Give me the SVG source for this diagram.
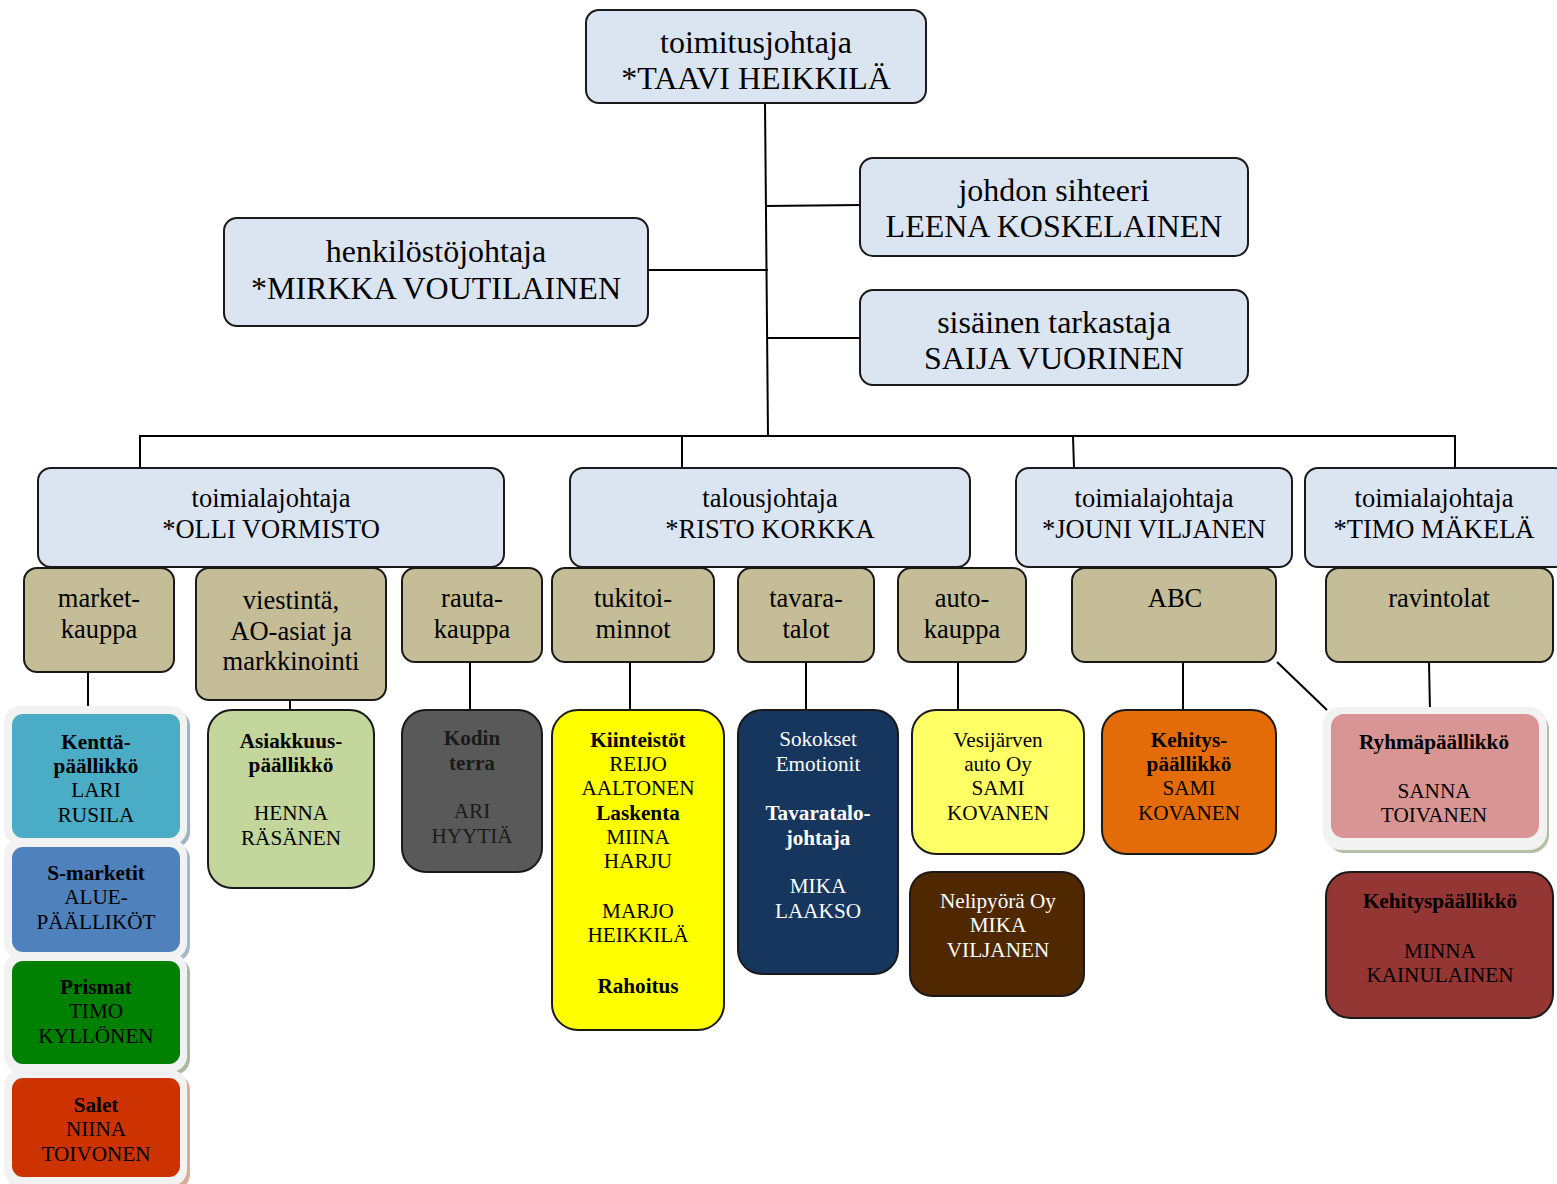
<svg xmlns="http://www.w3.org/2000/svg" width="1557" height="1184" viewBox="0 0 1557 1184">
  <style>
    text { font-family: "Liberation Serif", "Times New Roman", "DejaVu Serif", serif; font-weight: 400; text-anchor: middle; fill: #000; }
    .t1 { font-size: 32px; }
    .t2 { font-size: 26.5px; }
    .t3 { font-size: 26.5px; }
    .t4 { font-size: 21.2px; }
    .b { font-weight: 700; }
    .w { fill: #fff; }
    .dk { fill: #1a1a1a; }
    .head { fill: #DBE5F1; stroke: #1a1a1a; stroke-width: 2; }
    .unit { fill: #C4BD97; stroke: #1a1a1a; stroke-width: 2; }
    .leaf { stroke: #1a1a1a; stroke-width: 2; }
    .frame { fill: #F2F2F2; }
    .conn line, .conn polyline { stroke: #000; stroke-width: 2; fill: none; }
  </style>

  <!-- connectors -->
  <g class="conn" id="connectors">
    <line x1="765" y1="103" x2="768" y2="436"/>
    <line x1="765" y1="206" x2="861" y2="205"/>
    <line x1="648" y1="270" x2="768" y2="270"/>
    <line x1="768" y1="338" x2="861" y2="338"/>
    <polyline points="140,468 140,436 1455,436 1455,468"/>
    <line x1="682" y1="436" x2="682" y2="468"/>
    <line x1="1073" y1="436" x2="1074" y2="468"/>
    <line x1="88" y1="672" x2="88" y2="710"/>
    <line x1="290" y1="700" x2="290" y2="710"/>
    <line x1="470" y1="662" x2="470" y2="711"/>
    <line x1="630" y1="662" x2="630" y2="711"/>
    <line x1="806" y1="662" x2="806" y2="711"/>
    <line x1="958" y1="662" x2="958" y2="711"/>
    <line x1="1183" y1="662" x2="1183" y2="711"/>
    <line x1="1429" y1="662" x2="1430" y2="711"/>
    <line x1="1277" y1="662" x2="1327" y2="710"/>
  </g>

  <!-- top management -->
  <g id="ceo">
    <rect class="head" x="586" y="10" width="340" height="93" rx="13"/>
    <text class="t1" x="756" y="53">toimitusjohtaja</text>
    <text class="t1" x="756" y="89">*TAAVI HEIKKILÄ</text>
  </g>
  <g id="secretary">
    <rect class="head" x="860" y="158" width="388" height="98" rx="13"/>
    <text class="t1" x="1054" y="201">johdon sihteeri</text>
    <text class="t1" x="1054" y="237">LEENA KOSKELAINEN</text>
  </g>
  <g id="hr">
    <rect class="head" x="224" y="218" width="424" height="108" rx="13"/>
    <text class="t1" x="436" y="262">henkilöstöjohtaja</text>
    <text class="t1" x="436" y="299">*MIRKKA VOUTILAINEN</text>
  </g>
  <g id="audit">
    <rect class="head" x="860" y="290" width="388" height="95" rx="13"/>
    <text class="t1" x="1054" y="333">sisäinen tarkastaja</text>
    <text class="t1" x="1054" y="369">SAIJA VUORINEN</text>
  </g>

  <!-- division heads -->
  <g id="olli">
    <rect class="head" x="38" y="468" width="466" height="99" rx="13"/>
    <text class="t2" x="271" y="507">toimialajohtaja</text>
    <text class="t2" x="271" y="538">*OLLI VORMISTO</text>
  </g>
  <g id="risto">
    <rect class="head" x="570" y="468" width="400" height="99" rx="13"/>
    <text class="t2" x="770" y="507">talousjohtaja</text>
    <text class="t2" x="770" y="538">*RISTO KORKKA</text>
  </g>
  <g id="jouni">
    <rect class="head" x="1016" y="468" width="276" height="99" rx="13"/>
    <text class="t2" x="1154" y="507">toimialajohtaja</text>
    <text class="t2" x="1154" y="538">*JOUNI VILJANEN</text>
  </g>
  <g id="timo">
    <rect class="head" x="1305" y="468" width="262" height="99" rx="13"/>
    <text class="t2" x="1434" y="507">toimialajohtaja</text>
    <text class="t2" x="1434" y="538">*TIMO MÄKELÄ</text>
  </g>

  <!-- business units -->
  <g id="market">
    <rect class="unit" x="24" y="568" width="150" height="104" rx="13"/>
    <text class="t3" x="99" y="607">market-</text>
    <text class="t3" x="99" y="638">kauppa</text>
  </g>
  <g id="viestinta">
    <rect class="unit" x="196" y="568" width="190" height="132" rx="13"/>
    <text class="t3" x="291" y="609">viestintä,</text>
    <text class="t3" x="291" y="640">AO-asiat ja</text>
    <text class="t3" x="291" y="670">markkinointi</text>
  </g>
  <g id="rauta">
    <rect class="unit" x="402" y="568" width="140" height="94" rx="13"/>
    <text class="t3" x="472" y="607">rauta-</text>
    <text class="t3" x="472" y="638">kauppa</text>
  </g>
  <g id="tuki">
    <rect class="unit" x="552" y="568" width="162" height="94" rx="13"/>
    <text class="t3" x="633" y="607">tukitoi-</text>
    <text class="t3" x="633" y="638">minnot</text>
  </g>
  <g id="tavara">
    <rect class="unit" x="738" y="568" width="136" height="94" rx="13"/>
    <text class="t3" x="806" y="607">tavara-</text>
    <text class="t3" x="806" y="638">talot</text>
  </g>
  <g id="auto">
    <rect class="unit" x="898" y="568" width="128" height="94" rx="13"/>
    <text class="t3" x="962" y="607">auto-</text>
    <text class="t3" x="962" y="638">kauppa</text>
  </g>
  <g id="abc">
    <rect class="unit" x="1072" y="568" width="204" height="94" rx="13"/>
    <text class="t3" x="1175" y="607">ABC</text>
  </g>
  <g id="ravintolat">
    <rect class="unit" x="1326" y="568" width="227" height="94" rx="13"/>
    <text class="t3" x="1439" y="607">ravintolat</text>
  </g>

  <!-- market chains (framed stack) -->
  <g id="kentta">
    <rect x="8" y="710" width="182" height="138" rx="16" fill="#9FB4C2"/>
    <rect class="frame" x="4" y="706" width="183" height="139" rx="16"/>
    <rect x="12" y="714" width="168" height="124" rx="11" fill="#4BACC6"/>
    <text class="t4 b" x="96" y="749">Kenttä-</text>
    <text class="t4 b" x="96" y="773">päällikkö</text>
    <text class="t4" x="96" y="797">LARI</text>
    <text class="t4" x="96" y="822">RUSILA</text>
  </g>
  <g id="smarketit">
    <rect x="8" y="843" width="182" height="119" rx="16" fill="#A9B7CC"/>
    <rect class="frame" x="4" y="839" width="183" height="120" rx="16"/>
    <rect x="12" y="847" width="168" height="105" rx="11" fill="#4F81BD"/>
    <text class="t4 b" x="96" y="880">S-marketit</text>
    <text class="t4" x="96" y="904">ALUE-</text>
    <text class="t4" x="96" y="929">PÄÄLLIKÖT</text>
  </g>
  <g id="prismat">
    <rect x="8" y="957" width="182" height="118" rx="16" fill="#AAB9A3"/>
    <rect class="frame" x="4" y="953" width="183" height="119" rx="16"/>
    <rect x="12" y="961" width="168" height="103" rx="11" fill="#008000"/>
    <text class="t4 b" x="96" y="994">Prismat</text>
    <text class="t4" x="96" y="1018">TIMO</text>
    <text class="t4" x="96" y="1043">KYLLÖNEN</text>
  </g>
  <g id="salet">
    <rect x="8" y="1074" width="182" height="116" rx="16" fill="#D6AE96"/>
    <rect class="frame" x="4" y="1070" width="183" height="116" rx="16"/>
    <rect x="12" y="1078" width="168" height="99" rx="11" fill="#CC3300"/>
    <text class="t4 b" x="96" y="1112">Salet</text>
    <text class="t4" x="96" y="1136">NIINA</text>
    <text class="t4" x="96" y="1161">TOIVONEN</text>
  </g>

  <!-- leaf units -->
  <g id="asiakkuus">
    <rect class="leaf" x="208" y="710" width="166" height="178" rx="24" fill="#C3D69B"/>
    <text class="t4 b" x="291" y="748">Asiakkuus-</text>
    <text class="t4 b" x="291" y="772">päällikkö</text>
    <text class="t4" x="291" y="820">HENNA</text>
    <text class="t4" x="291" y="845">RÄSÄNEN</text>
  </g>
  <g id="kodinterra">
    <rect class="leaf" x="402" y="710" width="140" height="162" rx="24" fill="#595959"/>
    <text class="t4 b dk" x="472" y="745">Kodin</text>
    <text class="t4 b dk" x="472" y="770">terra</text>
    <text class="t4 dk" x="472" y="818">ARI</text>
    <text class="t4 dk" x="472" y="843">HYYTIÄ</text>
  </g>
  <g id="kiinteistot">
    <rect class="leaf" x="552" y="710" width="172" height="320" rx="26" fill="#FFFF00"/>
    <text class="t4 b" x="638" y="747">Kiinteistöt</text>
    <text class="t4" x="638" y="771">REIJO</text>
    <text class="t4" x="638" y="795">AALTONEN</text>
    <text class="t4 b" x="638" y="820">Laskenta</text>
    <text class="t4" x="638" y="844">MIINA</text>
    <text class="t4" x="638" y="868">HARJU</text>
    <text class="t4" x="638" y="918">MARJO</text>
    <text class="t4" x="638" y="942">HEIKKILÄ</text>
    <text class="t4 b" x="638" y="993">Rahoitus</text>
  </g>
  <g id="sokokset">
    <rect class="leaf" x="738" y="710" width="160" height="264" rx="24" fill="#17365D"/>
    <text class="t4 w" x="818" y="746">Sokokset</text>
    <text class="t4 w" x="818" y="771">Emotionit</text>
    <text class="t4 b w" x="818" y="820">Tavaratalo-</text>
    <text class="t4 b w" x="818" y="845">johtaja</text>
    <text class="t4 w" x="818" y="893">MIKA</text>
    <text class="t4 w" x="818" y="918">LAAKSO</text>
  </g>
  <g id="vesijarven">
    <rect class="leaf" x="912" y="710" width="172" height="144" rx="24" fill="#FFFF66"/>
    <text class="t4" x="998" y="747">Vesijärven</text>
    <text class="t4" x="998" y="771">auto Oy</text>
    <text class="t4" x="998" y="795">SAMI</text>
    <text class="t4" x="998" y="820">KOVANEN</text>
  </g>
  <g id="nelipyora">
    <rect class="leaf" x="910" y="872" width="174" height="124" rx="22" fill="#4F2800"/>
    <text class="t4 w" x="998" y="908">Nelipyörä Oy</text>
    <text class="t4 w" x="998" y="932">MIKA</text>
    <text class="t4 w" x="998" y="957">VILJANEN</text>
  </g>
  <g id="kehitys-abc">
    <rect class="leaf" x="1102" y="710" width="174" height="144" rx="24" fill="#E36C09"/>
    <text class="t4 b" x="1189" y="747">Kehitys-</text>
    <text class="t4 b" x="1189" y="771">päällikkö</text>
    <text class="t4" x="1189" y="795">SAMI</text>
    <text class="t4" x="1189" y="820">KOVANEN</text>
  </g>
  <g id="ryhma">
    <rect x="1327" y="711" width="222" height="142" rx="18" fill="#B2BFA4"/>
    <rect class="frame" x="1323" y="707" width="224" height="143" rx="18"/>
    <rect x="1331" y="714" width="208" height="124" rx="13" fill="#D99594"/>
    <text class="t4 b" x="1434" y="749">Ryhmäpäällikkö</text>
    <text class="t4" x="1434" y="798">SANNA</text>
    <text class="t4" x="1434" y="822">TOIVANEN</text>
  </g>
  <g id="kehitys-rav">
    <rect class="leaf" x="1326" y="872" width="227" height="146" rx="24" fill="#943634"/>
    <text class="t4 b" x="1440" y="908">Kehityspäällikkö</text>
    <text class="t4" x="1440" y="958">MINNA</text>
    <text class="t4" x="1440" y="982">KAINULAINEN</text>
  </g>
</svg>
